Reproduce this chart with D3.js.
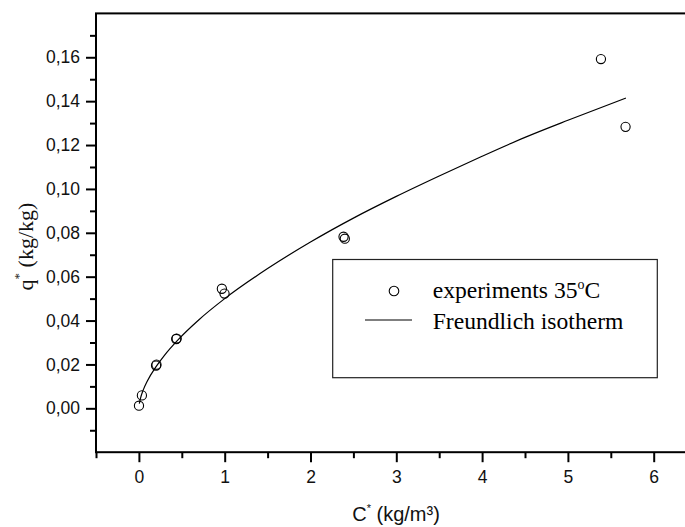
<!DOCTYPE html>
<html>
<head>
<meta charset="utf-8">
<script src="https://cdn.jsdelivr.net/npm/d3@7"></script>
<style>
  body { margin: 0; background: #fff; }
  svg { display: block; }
</style>
</head>
<body>
<svg id="chart" width="685" height="527"></svg>
<script>
  var expC = [0.001, 0.035, 0.20, 0.205, 0.435, 0.44, 0.967, 0.998, 2.385, 2.40, 5.385, 5.672];
  var expQ = [0.0012, 0.0059, 0.0195, 0.0199, 0.0316, 0.0318, 0.0545, 0.0523, 0.0782, 0.0773, 0.1592, 0.1283];

  // fitted Freundlich curve
  var fitC = [0.005, 0.02, 0.05, 0.1, 0.2, 0.3, 0.45, 0.7, 1.0, 1.5, 2.0, 2.5, 3.0, 3.5, 4.0, 4.5, 5.0, 5.676];
  var fitQ = [0.0021, 0.0048, 0.0083, 0.0126, 0.0190, 0.0243, 0.0310, 0.0404, 0.0500, 0.0637, 0.0758, 0.0867, 0.0966, 0.1059, 0.1149, 0.1235, 0.1313, 0.1414];

  var xTicks = [0, 1, 2, 3, 4, 5, 6];
  var xMinor = [-0.5, 0.5, 1.5, 2.5, 3.5, 4.5, 5.5, 6.5];
  var yTicks = [0, 0.02, 0.04, 0.06, 0.08, 0.10, 0.12, 0.14, 0.16];
  var yMinor = [-0.01, 0.01, 0.03, 0.05, 0.07, 0.09, 0.11, 0.13, 0.15, 0.17];

  var svg = d3.select("#chart");

  // plot box (right edge runs past the picture)
  var boxL = 96, boxR = 696.6, boxT = 13.4, boxB = 452.2;

  var x = d3.scaleLinear().domain([-0.5, 6.5]).range([boxL, boxR]);
  var y = d3.scaleLinear().domain([-0.02, 0.18]).range([boxB, boxT]);

  var comma = d3.formatLocale({ decimal: ",", thousands: ".", grouping: [3], currency: ["", ""] });
  var fmtY = comma.format(".2f");

  var sans = "'Liberation Sans', Arial, sans-serif";
  var serif = "'Liberation Serif', 'Times New Roman', serif";

  // minor ticks
  svg.append("g")
    .attr("transform", "translate(0," + boxB + ")")
    .call(d3.axisBottom(x).tickValues(xMinor).tickSize(6).tickFormat(""))
    .call(function (g) { g.select(".domain").remove(); })
    .selectAll("line").attr("stroke", "#000").attr("stroke-width", 2);

  svg.append("g")
    .attr("transform", "translate(" + boxL + ",0)")
    .call(d3.axisLeft(y).tickValues(yMinor).tickSize(6).tickFormat(""))
    .call(function (g) { g.select(".domain").remove(); })
    .selectAll("line").attr("stroke", "#000").attr("stroke-width", 2);

  // major ticks
  var gx = svg.append("g")
    .attr("transform", "translate(0," + boxB + ")")
    .call(d3.axisBottom(x).tickValues(xTicks).tickSize(10).tickPadding(8).tickFormat(d3.format("d")));
  gx.select(".domain").remove();
  gx.selectAll("line").attr("stroke", "#000").attr("stroke-width", 2);
  gx.selectAll("text").attr("font-family", sans).attr("font-size", 17.5).attr("fill", "#111");

  var gy = svg.append("g")
    .attr("transform", "translate(" + boxL + ",0)")
    .call(d3.axisLeft(y).tickValues(yTicks).tickSize(10).tickPadding(6).tickFormat(fmtY));
  gy.select(".domain").remove();
  gy.selectAll("line").attr("stroke", "#000").attr("stroke-width", 2);
  gy.selectAll("text").attr("font-family", sans).attr("font-size", 17.5).attr("fill", "#111");

  // frame
  svg.append("rect")
    .attr("x", boxL).attr("y", boxT)
    .attr("width", boxR - boxL).attr("height", boxB - boxT)
    .attr("fill", "none").attr("stroke", "#000").attr("stroke-width", 2);

  // fit curve
  var fit = fitC.map(function (c, i) { return [c, fitQ[i]]; });
  var line = d3.line()
    .x(function (d) { return x(d[0]); })
    .y(function (d) { return y(d[1]); })
    .curve(d3.curveMonotoneX);

  svg.append("path")
    .datum(fit)
    .attr("d", line)
    .attr("fill", "none")
    .attr("stroke", "#000")
    .attr("stroke-width", 1.2);

  // experiment circles
  var pts = expC.map(function (c, i) { return [c, expQ[i]]; });
  svg.append("g").selectAll("circle")
    .data(pts)
    .enter().append("circle")
    .attr("cx", function (d) { return x(d[0]); })
    .attr("cy", function (d) { return y(d[1]); })
    .attr("r", 4.6)
    .attr("fill", "none")
    .attr("stroke", "#000")
    .attr("stroke-width", 1.1);

  // legend
  var lg = svg.append("g");
  lg.append("rect")
    .attr("x", 332.7).attr("y", 259.5)
    .attr("width", 324.6).attr("height", 118.2)
    .attr("fill", "#fff").attr("stroke", "#222").attr("stroke-width", 1.2);
  lg.append("circle")
    .attr("cx", 394).attr("cy", 291).attr("r", 4.8)
    .attr("fill", "none").attr("stroke", "#000").attr("stroke-width", 1.1);
  lg.append("line")
    .attr("x1", 365).attr("x2", 412).attr("y1", 320).attr("y2", 320)
    .attr("stroke", "#000").attr("stroke-width", 1.2);

  var t1 = lg.append("text")
    .attr("x", 432.7).attr("y", 298.3)
    .attr("font-family", serif).attr("font-size", 23.6).attr("fill", "#000");
  t1.append("tspan").text("experiments 35");
  t1.append("tspan").attr("font-size", 14).attr("dy", -9).text("o");
  t1.append("tspan").attr("dy", 9).text("C");

  lg.append("text")
    .attr("x", 432.7).attr("y", 329.3)
    .attr("font-family", serif).attr("font-size", 23.6).attr("fill", "#000")
    .text("Freundlich isotherm");

  // axis titles
  var xt = svg.append("text")
    .attr("x", 396).attr("y", 520.7)
    .attr("text-anchor", "middle")
    .attr("font-family", sans).attr("font-size", 20).attr("fill", "#111");
  xt.append("tspan").text("C");
  xt.append("tspan").attr("font-size", 11).attr("dy", -9).text("*");
  xt.append("tspan").attr("dy", 9).text(" (kg/m³)");

  var yt = svg.append("text")
    .attr("transform", "translate(33,246.5) rotate(-90)")
    .attr("text-anchor", "middle")
    .attr("font-family", serif).attr("font-size", 22).attr("fill", "#111");
  yt.append("tspan").text("q");
  yt.append("tspan").attr("font-size", 13).attr("dy", -10).text("*");
  yt.append("tspan").attr("dy", 10).text(" (kg/kg)");
</script>
</body>
</html>
